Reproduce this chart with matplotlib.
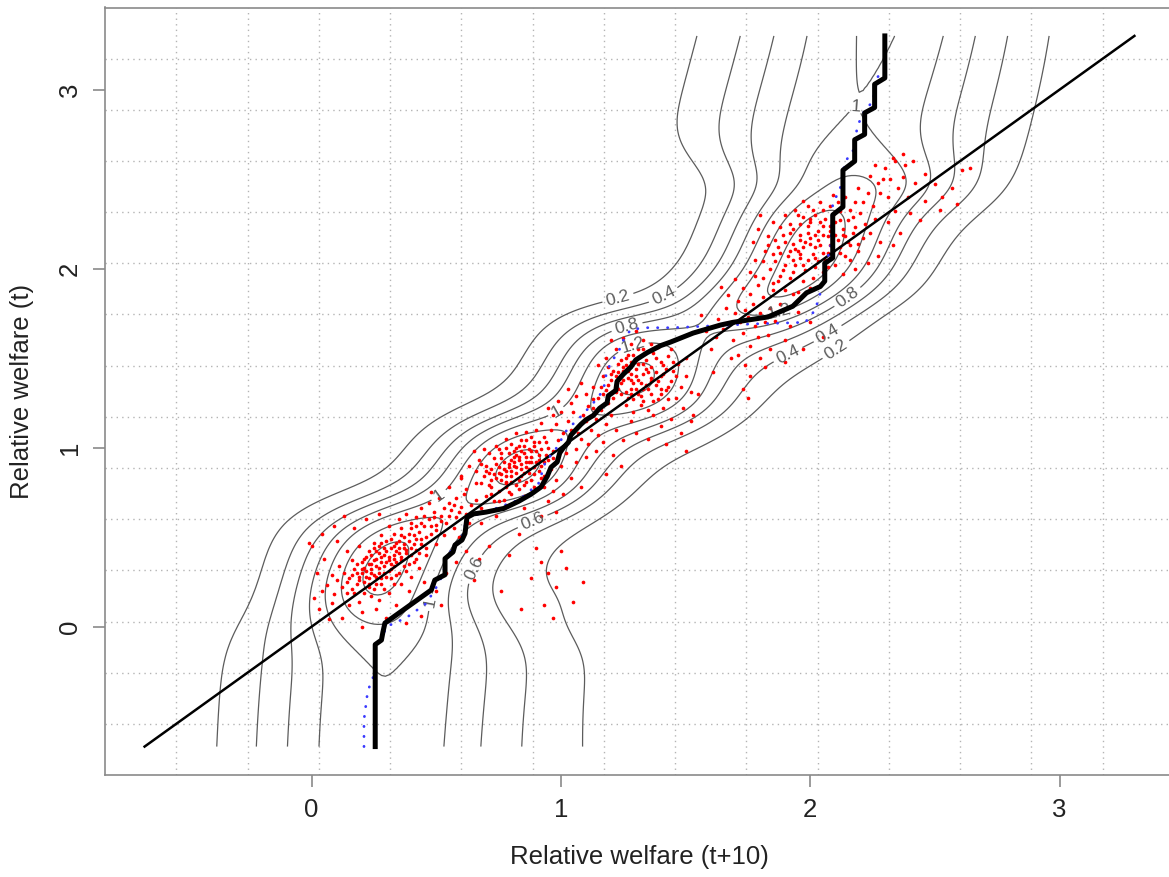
import matplotlib.pyplot as plt
import numpy as np

plt.rcParams['font.family'] = ['Liberation Sans', 'DejaVu Sans']

# relative welfare pairs (x = t+10, y = t), grouped by cluster
low_pts = [
    (0.22, 0.31), (0.25, 0.29), (0.27, 0.33), (0.30, 0.36), (0.24, 0.35), (0.19, 0.28), (0.21, 0.25),
    (0.28, 0.27), (0.31, 0.31), (0.33, 0.38), (0.35, 0.41), (0.29, 0.40), (0.26, 0.38), (0.23, 0.42),
    (0.32, 0.44), (0.36, 0.37), (0.38, 0.43), (0.34, 0.47), (0.40, 0.40), (0.41, 0.46), (0.37, 0.50),
    (0.44, 0.49), (0.39, 0.35), (0.42, 0.38), (0.17, 0.32), (0.15, 0.27), (0.18, 0.24), (0.20, 0.36),
    (0.27, 0.45), (0.30, 0.48), (0.33, 0.52), (0.36, 0.55), (0.43, 0.53), (0.46, 0.44), (0.45, 0.56),
    (0.48, 0.52), (0.40, 0.58), (0.47, 0.60), (0.50, 0.57), (0.52, 0.62), (0.49, 0.64), (0.54, 0.58),
    (0.56, 0.65), (0.58, 0.61), (0.60, 0.67), (0.55, 0.69), (0.62, 0.63), (0.64, 0.68), (0.53, 0.51),
    (0.57, 0.55), (0.12, 0.22), (0.14, 0.19), (0.10, 0.26), (0.16, 0.21), (0.23, 0.22), (0.26, 0.24),
    (0.29, 0.21), (0.32, 0.27), (0.35, 0.30), (0.38, 0.31), (0.21, 0.19), (0.24, 0.17), (0.19, 0.14),
    (0.27, 0.15), (0.13, 0.30), (0.11, 0.34), (0.08, 0.29), (0.06, 0.23), (0.09, 0.18), (0.16, 0.37),
    (0.22, 0.39), (0.25, 0.47), (0.28, 0.51), (0.31, 0.56), (0.19, 0.45), (0.14, 0.42), (0.35, 0.60),
    (0.38, 0.63), (0.42, 0.61), (0.44, 0.66), (0.47, 0.69), (0.51, 0.72), (0.58, 0.72), (0.61, 0.74),
    (0.66, 0.71), (0.68, 0.66), (0.70, 0.73), (0.63, 0.58), (0.59, 0.50), (0.50, 0.46), (0.46, 0.40),
    (0.43, 0.33), (0.40, 0.28), (0.36, 0.24), (0.31, 0.19), (0.26, 0.10), (0.20, 0.08), (0.15, 0.12),
    (0.08, 0.13), (0.04, 0.20), (0.02, 0.30), (0.05, 0.38), (0.00, 0.45), (0.10, 0.48), (0.03, 0.10),
    (0.12, 0.05), (0.30, 0.05), (0.34, 0.12), (0.39, 0.20), (0.45, 0.25), (0.33, 0.34), (0.29, 0.30),
    (0.26, 0.28), (0.23, 0.27), (0.31, 0.39), (0.37, 0.46), (0.41, 0.51), (0.34, 0.42), (0.28, 0.36),
    (0.24, 0.32), (0.20, 0.30), (0.35, 0.44), (0.39, 0.48), (0.42, 0.43), (0.32, 0.35), (0.27, 0.41),
    (0.72, 0.78), (0.75, 0.70), (0.74, 0.62), (0.68, 0.58), (0.78, 0.81), (0.66, 0.80), (0.55, 0.78),
    (0.60, 0.84), (0.48, 0.75), (0.80, 0.74), (0.85, 0.66), (0.92, 0.36), (0.95, 0.30), (0.98, 0.22),
    (1.02, 0.33), (1.05, 0.14), (0.93, 0.12), (0.88, 0.27), (1.09, 0.25), (0.90, 0.44), (1.00, 0.42),
    (0.83, 0.52), (0.79, 0.40), (0.71, 0.45), (0.67, 0.38), (0.62, 0.42), (0.58, 0.36), (0.54, 0.30),
    (0.65, 0.26), (0.76, 0.20), (0.84, 0.10), (0.97, 0.05), (-0.01, 0.47), (0.04, 0.52), (0.09, 0.56),
    (0.17, 0.55), (0.22, 0.60), (0.27, 0.63), (0.13, 0.62), (0.07, 0.04), (0.01, 0.16), (0.44, 0.06),
    (0.38, 0.02), (0.20, 0.00), (0.50, 0.20), (0.52, 0.12),
    (0.21, 0.33), (0.24, 0.30), (0.26, 0.34), (0.29, 0.34), (0.31, 0.37), (0.33, 0.40), (0.30, 0.42),
    (0.28, 0.39), (0.25, 0.37), (0.23, 0.35), (0.20, 0.32), (0.18, 0.30), (0.22, 0.28), (0.27, 0.30),
    (0.32, 0.32), (0.34, 0.36), (0.36, 0.39), (0.38, 0.41), (0.40, 0.44), (0.37, 0.44), (0.35, 0.48),
    (0.33, 0.45), (0.29, 0.44), (0.26, 0.42), (0.24, 0.40), (0.21, 0.38), (0.18, 0.35), (0.16, 0.29),
    (0.19, 0.26), (0.23, 0.24), (0.28, 0.24), (0.30, 0.28), (0.34, 0.29), (0.37, 0.34), (0.41, 0.36),
    (0.43, 0.41), (0.44, 0.46), (0.42, 0.49), (0.39, 0.52), (0.36, 0.51), (0.32, 0.49), (0.28, 0.47),
    (0.25, 0.44), (0.40, 0.55), (0.44, 0.58), (0.48, 0.56), (0.46, 0.50), (0.50, 0.54), (0.52, 0.59),
    (0.49, 0.61), (0.55, 0.62), (0.53, 0.66), (0.57, 0.68), (0.59, 0.64), (0.45, 0.62), (0.42, 0.56),
    (0.14, 0.25), (0.17, 0.19), (0.25, 0.21), (0.33, 0.24),
]
mid_pts = [
    (0.76, 0.85), (0.79, 0.89), (0.82, 0.86), (0.80, 0.93), (0.84, 0.91), (0.86, 0.95), (0.78, 0.80),
    (0.74, 0.83), (0.72, 0.88), (0.77, 0.92), (0.81, 0.98), (0.85, 1.01), (0.88, 0.98), (0.90, 0.92),
    (0.87, 0.88), (0.83, 0.82), (0.89, 0.85), (0.92, 0.90), (0.94, 0.96), (0.91, 1.03), (0.88, 1.06),
    (0.84, 1.04), (0.80, 1.02), (0.76, 0.97), (0.73, 0.94), (0.70, 0.90), (0.69, 0.84), (0.71, 0.79),
    (0.75, 0.76), (0.79, 0.75), (0.83, 0.77), (0.86, 0.81), (0.93, 0.84), (0.96, 0.88), (0.97, 0.94),
    (0.95, 1.00), (0.93, 1.06), (0.90, 1.10), (0.86, 1.09), (0.82, 1.08), (0.78, 1.05), (0.74, 1.01),
    (0.67, 0.93), (0.66, 0.87), (0.68, 0.80), (0.72, 0.74), (0.77, 0.71), (0.85, 0.73), (0.89, 0.78),
    (0.98, 0.82), (1.00, 0.90), (1.02, 0.97), (0.99, 1.04), (0.96, 1.10), (0.92, 1.14), (0.63, 0.90),
    (0.65, 0.98), (0.69, 0.99), (0.81, 0.90), (0.78, 0.87), (0.83, 0.95), (0.87, 0.92), (0.75, 0.89),
    (0.80, 0.84), (0.85, 0.86), (0.91, 0.96), (0.89, 1.01), (0.82, 1.00), (0.93, 0.78), (0.97, 0.76),
    (1.04, 0.83), (1.06, 0.92), (0.60, 0.83), (0.62, 0.77), (0.73, 0.70), (0.95, 0.70), (1.01, 0.74),
    (0.98, 0.64), (0.92, 0.62), (1.08, 0.78),
    (0.78, 0.84), (0.80, 0.87), (0.82, 0.89), (0.84, 0.88), (0.86, 0.92), (0.83, 0.93), (0.81, 0.95),
    (0.79, 0.91), (0.77, 0.88), (0.75, 0.86), (0.73, 0.85), (0.76, 0.82), (0.80, 0.81), (0.84, 0.84),
    (0.87, 0.86), (0.89, 0.89), (0.91, 0.93), (0.88, 0.95), (0.85, 0.97), (0.82, 0.96), (0.79, 0.97),
    (0.76, 0.94), (0.74, 0.91), (0.71, 0.86), (0.72, 0.82), (0.78, 0.78), (0.82, 0.79), (0.85, 0.79),
    (0.88, 0.82), (0.91, 0.87), (0.93, 0.92), (0.92, 0.99), (0.89, 1.03), (0.86, 1.04), (0.83, 1.01),
    (0.78, 1.00), (0.75, 0.99), (0.71, 0.97), (0.68, 0.91), (0.70, 0.87), (0.95, 0.93), (0.97, 0.98),
    (0.94, 1.03), (0.90, 0.98), (0.87, 0.99), (0.84, 0.98), (0.81, 0.92), (0.86, 0.89), (0.92, 0.83),
    (0.88, 0.92),
    (0.98, 1.13), (1.01, 1.08), (1.03, 1.15), (1.05, 1.20), (1.07, 1.12), (1.09, 1.18), (1.11, 1.23),
    (1.04, 1.25), (1.00, 1.20), (0.97, 1.18), (1.12, 1.10), (1.14, 1.16), (1.16, 1.21), (1.13, 1.27),
    (1.10, 1.30), (1.06, 1.29), (1.08, 1.05), (1.11, 1.02), (1.15, 1.07), (1.18, 1.13), (1.20, 1.18),
    (1.19, 1.25), (1.02, 1.02), (1.06, 0.99), (1.10, 0.95), (1.14, 0.98), (1.17, 1.03), (1.22, 1.10),
    (1.25, 1.04), (1.21, 0.96), (0.99, 1.26), (0.95, 1.22), (1.03, 1.33), (1.08, 1.36), (1.13, 1.34),
    (1.17, 1.30), (1.28, 1.15), (1.30, 1.08), (1.24, 0.90), (1.18, 0.85),
    (1.22, 1.35), (1.25, 1.38), (1.28, 1.33), (1.30, 1.40), (1.27, 1.43), (1.24, 1.30), (1.21, 1.28),
    (1.32, 1.36), (1.35, 1.42), (1.33, 1.47), (1.30, 1.49), (1.26, 1.46), (1.23, 1.42), (1.20, 1.38),
    (1.36, 1.30), (1.38, 1.35), (1.40, 1.40), (1.41, 1.46), (1.38, 1.50), (1.34, 1.53), (1.29, 1.27),
    (1.32, 1.24), (1.35, 1.21), (1.39, 1.27), (1.42, 1.32), (1.44, 1.37), (1.45, 1.43), (1.43, 1.51),
    (1.39, 1.56), (1.31, 1.55), (1.27, 1.52), (1.24, 1.49), (1.19, 1.45), (1.17, 1.40), (1.16, 1.34),
    (1.26, 1.24), (1.29, 1.20), (1.37, 1.18), (1.41, 1.22), (1.46, 1.28), (1.48, 1.34), (1.47, 1.47),
    (1.44, 1.55), (1.36, 1.58), (1.33, 1.60), (1.28, 1.58), (1.22, 1.55), (1.18, 1.50), (1.15, 1.46),
    (1.50, 1.40), (1.52, 1.31), (1.49, 1.22), (1.44, 1.16), (1.40, 1.12), (1.50, 1.50), (1.25, 1.61),
    (1.30, 1.65), (1.20, 1.60), (1.34, 1.44), (1.31, 1.30), (1.28, 1.38), (1.36, 1.39), (1.33, 1.33),
    (1.40, 1.33), (1.25, 1.41), (1.53, 1.18), (1.48, 1.08), (1.50, 0.98), (1.35, 1.05), (1.42, 1.02),
    (1.24, 1.36), (1.27, 1.39), (1.29, 1.36), (1.31, 1.38), (1.33, 1.41), (1.30, 1.44), (1.28, 1.41),
    (1.25, 1.43), (1.22, 1.40), (1.23, 1.33), (1.26, 1.31), (1.30, 1.33), (1.34, 1.35), (1.36, 1.37),
    (1.38, 1.42), (1.36, 1.45), (1.34, 1.49), (1.31, 1.47), (1.28, 1.48), (1.25, 1.45), (1.21, 1.43),
    (1.19, 1.35), (1.22, 1.31), (1.27, 1.28), (1.32, 1.29), (1.35, 1.33), (1.39, 1.37), (1.41, 1.41),
    (1.40, 1.48), (1.37, 1.53), (1.33, 1.55), (1.29, 1.52), (1.26, 1.50), (1.23, 1.47), (1.20, 1.41),
    (1.37, 1.26), (1.40, 1.30), (1.43, 1.34), (1.42, 1.44), (1.45, 1.48), (1.46, 1.40), (1.43, 1.27),
    (1.33, 1.26), (1.28, 1.30), (1.18, 1.32), (1.15, 1.28), (1.13, 1.22), (1.10, 1.15), (1.07, 1.08),
    (1.04, 1.10),
]
upper_pts = [
    (1.72, 1.70), (1.75, 1.73), (1.78, 1.68), (1.74, 1.77), (1.80, 1.75), (1.77, 1.80), (1.70, 1.75),
    (1.68, 1.70), (1.73, 1.64), (1.79, 1.62), (1.82, 1.70), (1.84, 1.78), (1.81, 1.84), (1.76, 1.86),
    (1.71, 1.82), (1.66, 1.78), (1.65, 1.66), (1.69, 1.60), (1.76, 1.57), (1.83, 1.63), (1.86, 1.71),
    (1.88, 1.80), (1.85, 1.88), (1.79, 1.91), (1.73, 1.89), (1.67, 1.85), (1.63, 1.72), (1.62, 1.62),
    (1.71, 1.52), (1.74, 1.46), (1.76, 1.40), (1.73, 1.33), (1.75, 1.28), (1.80, 1.50), (1.84, 1.55),
    (1.90, 1.60), (1.92, 1.68), (1.60, 1.55), (1.58, 1.65), (1.56, 1.74), (1.64, 1.90), (1.70, 1.94),
    (1.78, 1.96), (1.87, 1.93), (1.93, 1.86), (1.95, 1.76), (1.55, 1.30), (1.52, 1.15), (1.61, 1.42),
    (1.68, 1.50), (1.82, 1.45), (1.90, 1.48), (1.97, 1.55), (2.05, 1.62), (2.00, 1.70),
]
top_pts = [
    (1.95, 2.10), (1.98, 2.15), (2.01, 2.08), (2.04, 2.13), (2.07, 2.18), (2.03, 2.21), (1.99, 2.24),
    (1.96, 2.19), (1.93, 2.14), (1.91, 2.07), (1.94, 2.02), (1.98, 1.99), (2.02, 2.01), (2.06, 2.05),
    (2.09, 2.10), (2.11, 2.16), (2.13, 2.22), (2.10, 2.26), (2.06, 2.28), (2.02, 2.30), (1.97, 2.29),
    (1.92, 2.25), (1.89, 2.19), (1.87, 2.12), (1.86, 2.04), (1.89, 1.99), (1.92, 1.95), (1.97, 1.93),
    (2.01, 1.95), (2.05, 1.98), (2.10, 2.02), (2.14, 2.07), (2.16, 2.13), (2.17, 2.20), (2.15, 2.27),
    (2.12, 2.32), (2.08, 2.35), (2.04, 2.37), (1.99, 2.35), (1.94, 2.33), (1.90, 2.30), (1.85, 2.26),
    (1.83, 2.18), (1.82, 2.10), (1.84, 2.00), (1.81, 1.95), (1.85, 1.92), (1.90, 1.88), (1.95, 1.87),
    (2.00, 1.89), (2.19, 2.10), (2.21, 2.17), (2.22, 2.25), (2.20, 2.31), (2.18, 2.37), (2.14, 2.40),
    (2.09, 2.41), (2.24, 2.20), (2.26, 2.28), (2.25, 2.35), (2.23, 2.42), (2.19, 2.45), (2.28, 2.15),
    (2.27, 2.07), (2.23, 2.03), (2.18, 2.00), (2.13, 1.97), (1.78, 2.05), (1.77, 2.15), (1.79, 2.22),
    (1.76, 1.98), (1.80, 2.30), (2.05, 2.24), (2.08, 2.21), (2.00, 2.17), (1.96, 2.06), (2.02, 2.12),
    (2.07, 2.09), (2.12, 2.12), (2.14, 2.18), (1.93, 2.22), (2.00, 2.26), (2.16, 2.33),
    (1.97, 2.12), (2.00, 2.14), (2.03, 2.16), (2.05, 2.19), (2.02, 2.19), (1.99, 2.20), (1.96, 2.16),
    (1.94, 2.11), (1.96, 2.08), (1.99, 2.05), (2.02, 2.06), (2.05, 2.09), (2.08, 2.13), (2.10, 2.19),
    (2.08, 2.24), (2.04, 2.26), (2.00, 2.28), (1.96, 2.25), (1.92, 2.20), (1.90, 2.15), (1.92, 2.10),
    (1.93, 2.05), (1.97, 2.02), (2.03, 2.04), (2.08, 2.06), (2.12, 2.09), (2.15, 2.15), (2.13, 2.19),
    (2.12, 2.27), (2.09, 2.30), (2.05, 2.33), (2.01, 2.33), (1.95, 2.30), (1.88, 2.23), (1.86, 2.16),
    (1.88, 2.09), (1.90, 2.02), (1.88, 1.96), (1.93, 1.98), (2.07, 2.01), (2.16, 2.05), (2.19, 2.14),
    (2.18, 2.23), (2.17, 2.29), (2.21, 2.37), (2.11, 2.37), (1.83, 2.13), (1.81, 2.04), (1.85, 2.08),
    (1.97, 2.38),
    (2.27, 2.48), (2.29, 2.50), (2.32, 2.50), (2.30, 2.56), (2.34, 2.60), (2.38, 2.58), (2.37, 2.64),
    (2.33, 2.62), (2.37, 2.51), (2.35, 2.45), (2.31, 2.40), (2.28, 2.42), (2.42, 2.48), (2.46, 2.53),
    (2.50, 2.47), (2.53, 2.40), (2.57, 2.45), (2.61, 2.55), (2.64, 2.56), (2.59, 2.36), (2.52, 2.33),
    (2.46, 2.38), (2.40, 2.31), (2.34, 2.32), (2.31, 2.26), (2.36, 2.20), (2.33, 2.13), (2.44, 2.27),
    (2.41, 2.60), (2.26, 2.58), (2.24, 2.52), (2.39, 2.40),
]

# conditional mode path (step line) and its finer-grid version
mode_x = [0.255, 0.255, 0.28, 0.286, 0.294, 0.48, 0.494, 0.535, 0.535, 0.567, 0.575, 0.603, 0.615,
          0.623, 0.65, 0.70, 0.77, 0.83, 0.88, 0.92, 0.945, 0.96, 0.985, 0.995, 1.01, 1.03, 1.04,
          1.06, 1.08, 1.10, 1.13, 1.155, 1.185, 1.19, 1.22, 1.225, 1.25, 1.28, 1.30, 1.345, 1.40,
          1.44, 1.53, 1.64, 1.69, 1.83, 1.88, 1.93, 1.985, 2.04, 2.058, 2.058, 2.09, 2.09, 2.131,
          2.131, 2.178, 2.178, 2.218, 2.218, 2.258, 2.258, 2.299, 2.299]
mode_y = [-0.67, -0.10, -0.075, -0.03, 0.02, 0.205, 0.26, 0.29, 0.38, 0.417, 0.456, 0.484, 0.52,
          0.61, 0.63, 0.64, 0.66, 0.70, 0.74, 0.78, 0.84, 0.89, 0.92, 0.97, 1.0, 1.03, 1.07,
          1.10, 1.13, 1.155, 1.18, 1.22, 1.25, 1.29, 1.32, 1.37, 1.41, 1.45, 1.49, 1.53, 1.57,
          1.59, 1.64, 1.685, 1.70, 1.73, 1.76, 1.79, 1.865, 1.90, 1.93, 2.03, 2.06, 2.30, 2.345,
          2.55, 2.60, 2.72, 2.75, 2.87, 2.90, 3.03, 3.065, 3.30]
fine_x = [0.21, 0.21, 0.225, 0.25, 0.255, 0.28, 0.30, 0.38, 0.46, 0.50, 0.53, 0.535, 0.57, 0.61,
          0.62, 0.70, 0.835, 0.91, 0.94, 0.97, 1.024, 1.077, 1.13, 1.17, 1.184, 1.225, 1.24, 1.25,
          1.28, 1.34, 1.45, 1.60, 1.75, 1.98, 2.02, 2.05, 2.06, 2.08, 2.09, 2.12, 2.14, 2.17, 2.19,
          2.22, 2.25, 2.27, 2.30, 2.30]
fine_y = [-0.67, -0.52, -0.36, -0.27, -0.10, -0.07, 0.0, 0.05, 0.13, 0.22, 0.30, 0.38, 0.44, 0.52,
          0.61, 0.64, 0.71, 0.80, 0.93, 0.97, 1.10, 1.17, 1.25, 1.32, 1.43, 1.53, 1.56, 1.60,
          1.66, 1.67, 1.67, 1.68, 1.69, 1.70, 1.77, 1.91, 2.03, 2.10, 2.36, 2.45, 2.60, 2.65, 2.80,
          2.89, 2.93, 3.07, 3.12, 3.30]

grid_lo, grid_hi = -0.67, 3.3
bw_x, bw_y, bw_y_max, nn_k = 0.21, 0.15, 0.38, 40

# where the contour labels sit
label_spots = [(1.22, 1.88), (1.42, 1.825), (1.26, 1.70), (1.29, 1.56), (1.88, 1.74), (2.15, 1.84),
               (2.06, 1.66), (1.90, 1.55), (2.13, 1.49), (2.20, 2.94), (0.515, 0.725), (0.88, 0.61),
               (0.635, 0.335), (0.50, 0.13), (1.0, 1.155)]

pts = np.array(low_pts + mid_pts + upper_pts + top_pts)
px, py = pts[:, 0], pts[:, 1]

# conditional density of x given y; both kernels widen (up to a cap) in sparse rows
gx = np.linspace(grid_lo, grid_hi, 260)
gy = np.linspace(grid_lo, grid_hi, 260)
dy = np.abs(gy[:, None] - py)
hy = np.clip(np.sort(dy, axis=1)[:, nn_k], bw_y, bw_y_max)
win = np.exp(-0.5 * (np.arange(-30, 31) / 8.0) ** 2)
hy = np.convolve(np.pad(hy, 30, mode='edge'), win / win.sum(), mode='valid')
hx = bw_x * np.sqrt(hy / bw_y)
ky = np.exp(-0.5 * (dy / hy[:, None]) ** 2)
ky /= ky.sum(axis=1)[:, None]
dens = np.empty((gy.size, gx.size))
for j in range(gy.size):
    kx = np.exp(-0.5 * ((gx[:, None] - px) / hx[j]) ** 2) / (hx[j] * np.sqrt(2 * np.pi))
    dens[j] = kx @ ky[j]
levels = np.arange(0.2, dens.max(), 0.2)

fig = plt.figure(figsize=(11.69, 8.77), dpi=100)
ax = fig.add_axes([105 / 1169, 102 / 877, 1069 / 1169, 767.5 / 877])
lim = (grid_lo - 0.04 * (grid_hi - grid_lo), grid_hi + 0.04 * (grid_hi - grid_lo))
ax.set_xlim(lim)
ax.set_ylim(lim)

for k in range(1, 15):
    pos = lim[0] + k * (lim[1] - lim[0]) / 15
    ax.axvline(pos, color='#b4b4b4', lw=1, ls=(0, (1, 3)), zorder=0)
    ax.axhline(pos, color='#b4b4b4', lw=1, ls=(0, (1, 3)), zorder=0)

cs = ax.contour(gx, gy, dens, levels=levels, colors='#5c5c5c', linewidths=0.9, zorder=1)
ax.clabel(cs, fmt=lambda v: f'{v:g}', fontsize=12.5, inline=True, inline_spacing=4,
          manual=label_spots)

ax.scatter(px, py, s=7, c='red', linewidths=0, zorder=2)
ax.plot([grid_lo, grid_hi], [grid_lo, grid_hi], color='black', lw=1.8, zorder=3)
ax.plot(fine_x, fine_y, color='#3a3aff', lw=2, ls=(0, (0.1, 3.5)), dash_capstyle='round', zorder=3)
ax.plot(mode_x, mode_y, color='black', lw=3.6, zorder=4)

for sp in ax.spines.values():
    sp.set_color('#8a8a8a')
    sp.set_linewidth(1.2)
ax.set_xticks([0, 1, 2, 3])
ax.set_yticks([0, 1, 2, 3])
ax.tick_params(length=8.6, width=1.2, color='#8a8a8a', labelsize=18.5, pad=8, labelcolor='#222222')
for lab in ax.get_yticklabels():
    lab.set_rotation(90)
    lab.set_va('center')

fig.text(639.5 / 1169, 1 - 857 / 877, 'Relative welfare (t+10)', ha='center', va='center',
         fontsize=18.5, color='#222222')
fig.text(22 / 1169, 1 - 391 / 877, 'Relative welfare (t)', ha='center', va='center',
         rotation=90, fontsize=18.5, color='#222222')

fig.savefig('out.png', dpi=100)
